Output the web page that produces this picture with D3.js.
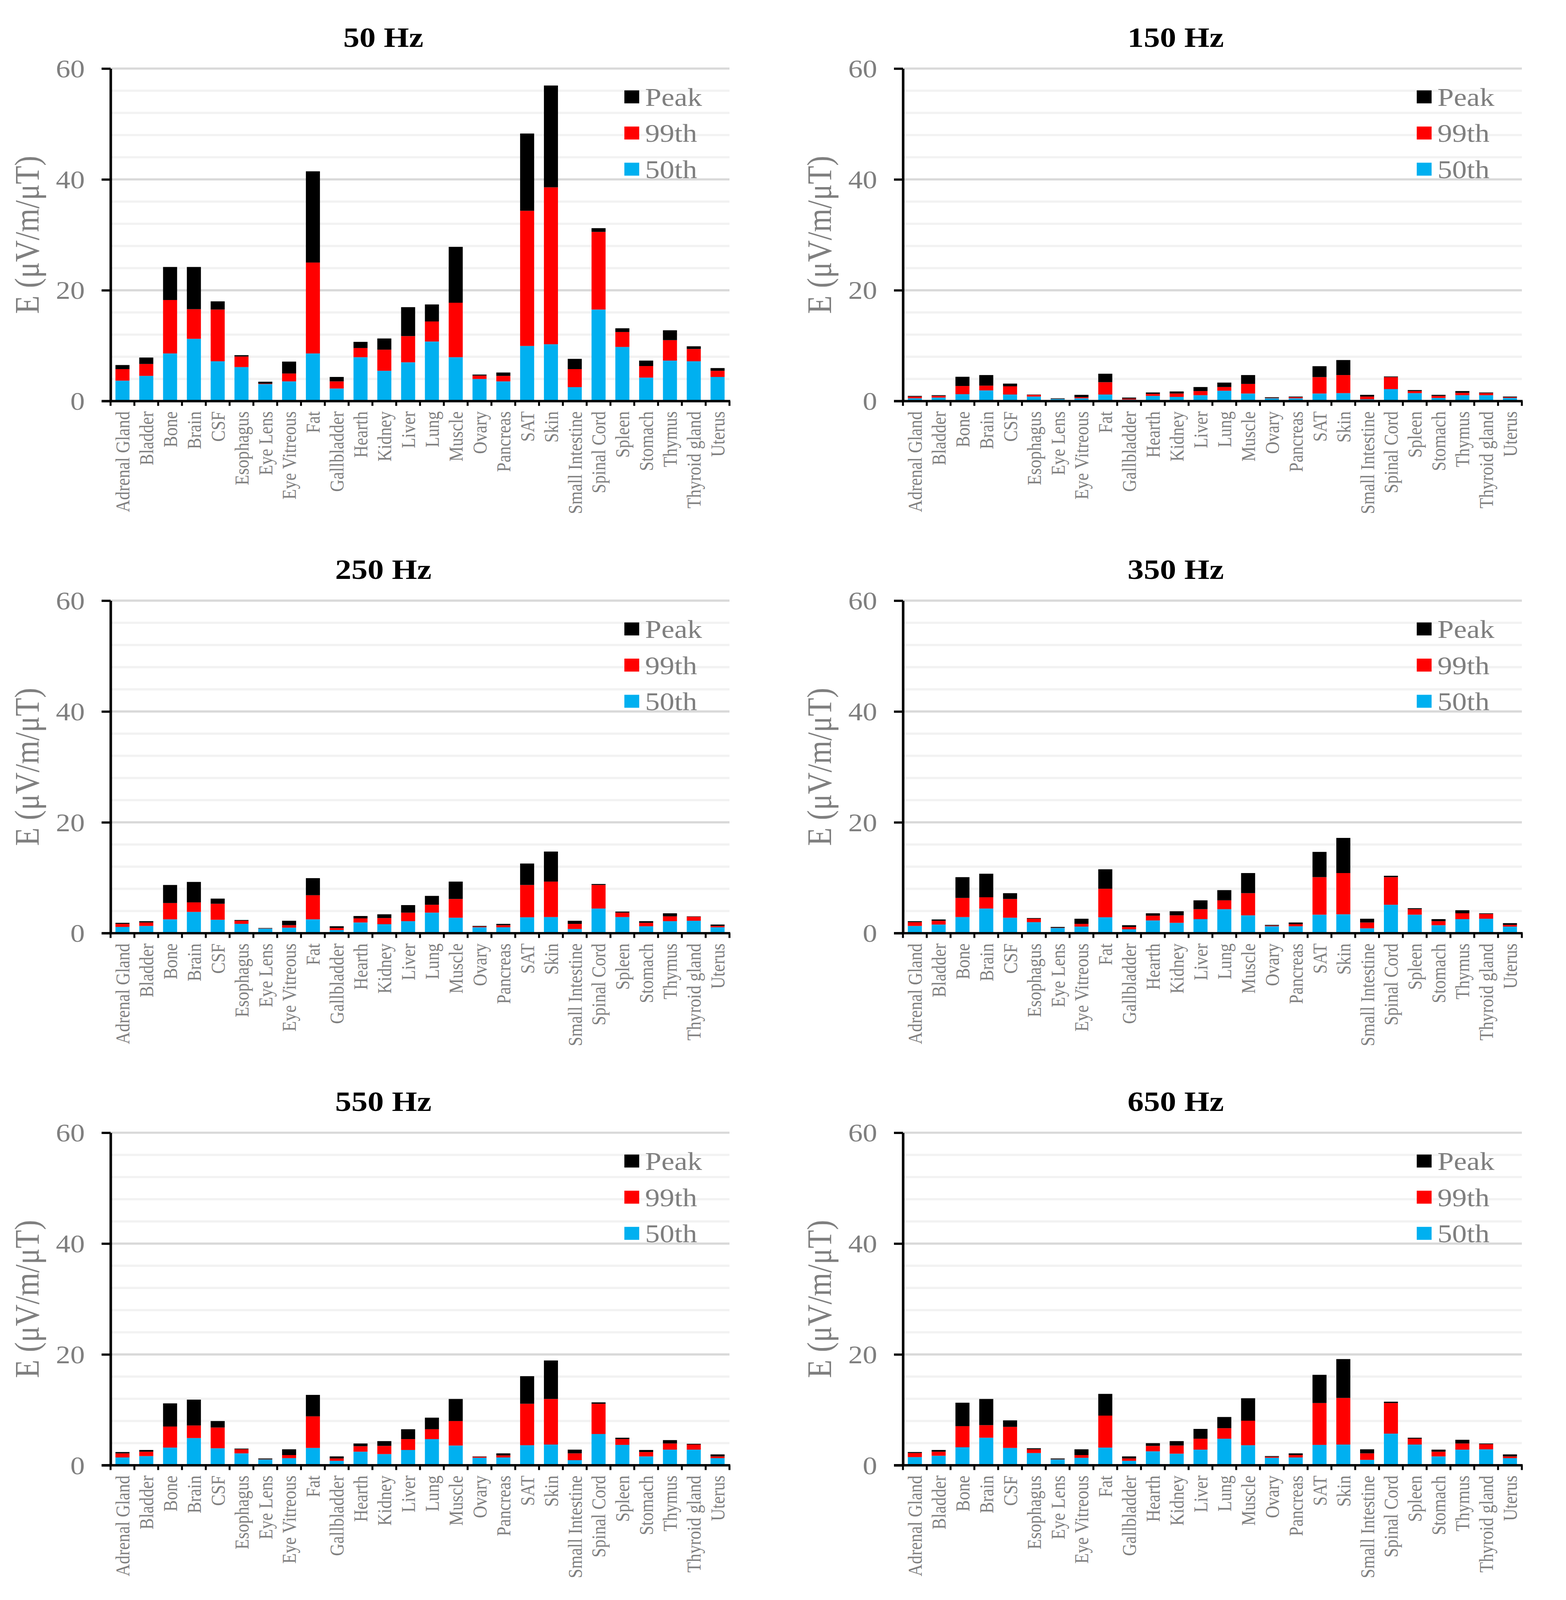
<!DOCTYPE html>
<html>
<head>
<meta charset="utf-8">
<script src="https://cdn.jsdelivr.net/npm/d3@7"></script>
<style>
  html, body { margin: 0; padding: 0; background: #ffffff; overflow: hidden; }
  svg { display: block; }
  text { font-family: "Liberation Serif", "Times New Roman", serif; }
</style>
</head>
<body>
<script>
// ---------- DATA ----------
const categories = ["Adrenal Gland","Bladder","Bone","Brain","CSF","Esophagus","Eye Lens","Eye Vitreous","Fat","Gallbladder","Hearth","Kidney","Liver","Lung","Muscle","Ovary","Pancreas","SAT","Skin","Small Intestine","Spinal Cord","Spleen","Stomach","Thymus","Thyroid gland","Uterus"];
const frequencies = ["50 Hz","150 Hz","250 Hz","350 Hz","550 Hz","650 Hz"];
const seriesNames = ["Peak","99th","50th"];
const yTicks = [0, 20, 40, 60];

const p50_50  = [3.69,4.55,8.60,11.24,7.19,6.14,3.07,3.56,8.60,2.27,7.92,5.47,7.00,10.75,7.92,3.99,3.56,9.95,10.26,2.52,16.52,9.77,4.24,7.31,7.19,4.36];
const p99_50  = [5.77,6.70,18.24,16.58,16.52,8.05,3.15,4.98,25.00,3.56,9.58,9.28,11.73,14.37,17.75,4.61,4.55,34.34,38.57,5.77,30.53,12.47,6.33,11.00,9.40,5.47];
const peak_50 = [6.51,7.86,24.20,24.20,18.00,8.29,3.50,7.13,41.46,4.36,10.69,11.30,16.95,17.44,27.83,4.79,5.16,48.28,56.94,7.62,31.20,13.14,7.31,12.78,9.89,5.96];

const p50_150  = [0.51,0.64,1.25,1.93,1.19,0.82,0.39,0.51,1.19,0.27,0.94,0.76,1.07,1.87,1.37,0.51,0.51,1.37,1.44,0.33,2.17,1.44,0.57,1.07,1.07,0.57];
const p99_150  = [0.82,0.94,2.73,2.79,2.67,1.13,0.42,0.70,3.41,0.45,1.31,1.37,1.81,2.54,3.10,0.57,0.70,4.33,4.70,0.82,4.33,1.81,0.94,1.50,1.44,0.70];
const peak_150 = [0.94,1.07,4.39,4.70,3.16,1.19,0.51,1.13,4.94,0.64,1.56,1.74,2.54,3.34,4.70,0.70,0.82,6.30,7.41,1.13,4.45,1.99,1.13,1.81,1.56,0.82];

const p50_250  = [1.13,1.31,2.50,3.84,2.42,1.68,0.82,1.00,2.50,0.57,1.93,1.62,2.17,3.71,2.79,1.07,1.07,2.87,2.91,0.76,4.45,2.91,1.25,2.17,2.24,1.07];
const p99_250  = [1.68,1.93,5.44,5.56,5.31,2.26,0.86,1.44,6.85,0.94,2.67,2.73,3.71,5.13,6.17,1.19,1.44,8.70,9.31,1.68,8.70,3.71,1.87,3.04,2.97,1.31];
const peak_250 = [1.87,2.17,8.70,9.25,6.24,2.38,0.94,2.24,9.93,1.25,3.10,3.41,5.07,6.73,9.31,1.31,1.68,12.57,14.73,2.24,8.88,3.90,2.17,3.59,3.04,1.56];

const p50_350  = [1.31,1.56,2.91,4.45,2.79,1.99,0.94,1.19,2.87,0.70,2.30,1.87,2.54,4.33,3.22,1.25,1.25,3.34,3.41,0.88,5.13,3.34,1.44,2.54,2.61,1.19];
const p99_350  = [1.99,2.24,6.36,6.48,6.17,2.61,0.98,1.68,8.02,1.13,3.16,3.22,4.33,5.93,7.22,1.37,1.62,10.11,10.85,1.93,10.11,4.33,2.17,3.59,3.47,1.50];
const peak_350 = [2.17,2.48,10.11,10.73,7.22,2.73,1.13,2.61,11.53,1.44,3.59,3.96,5.93,7.77,10.85,1.50,1.93,14.67,17.19,2.61,10.36,4.51,2.54,4.14,3.59,1.81];

const p50_550  = [1.41,1.66,3.19,4.91,3.07,2.15,1.04,1.29,3.13,0.80,2.45,2.02,2.76,4.72,3.56,1.35,1.41,3.62,3.74,0.92,5.64,3.68,1.60,2.82,2.82,1.29];
const p99_550  = [2.15,2.45,6.99,7.18,6.81,2.88,1.08,1.84,8.83,1.23,3.44,3.50,4.72,6.50,7.98,1.53,1.78,11.10,11.96,2.15,11.10,4.72,2.39,3.93,3.74,1.60];
const peak_550 = [2.39,2.76,11.17,11.84,7.98,3.01,1.23,2.88,12.70,1.60,3.93,4.36,6.50,8.59,11.96,1.60,2.15,16.07,18.91,2.82,11.35,4.97,2.76,4.54,3.87,1.96];

const p50_650  = [1.47,1.72,3.25,4.97,3.13,2.21,1.04,1.35,3.19,0.80,2.52,2.09,2.82,4.79,3.62,1.35,1.41,3.68,3.74,0.98,5.71,3.74,1.60,2.82,2.88,1.29];
const p99_650  = [2.21,2.45,7.06,7.24,6.93,2.88,1.08,1.84,8.96,1.23,3.50,3.56,4.79,6.69,8.04,1.53,1.84,11.23,12.15,2.15,11.23,4.79,2.45,3.93,3.80,1.60];
const peak_650 = [2.39,2.76,11.29,11.96,8.10,3.07,1.23,2.88,12.88,1.60,3.99,4.36,6.56,8.71,12.09,1.66,2.15,16.32,19.16,2.88,11.47,4.97,2.82,4.60,3.93,1.96];

const panels = [
  { title: frequencies[0], p50: p50_50,  p99: p99_50,  peak: peak_50  },
  { title: frequencies[1], p50: p50_150, p99: p99_150, peak: peak_150 },
  { title: frequencies[2], p50: p50_250, p99: p99_250, peak: peak_250 },
  { title: frequencies[3], p50: p50_350, p99: p99_350, peak: peak_350 },
  { title: frequencies[4], p50: p50_550, p99: p99_550, peak: peak_550 },
  { title: frequencies[5], p50: p50_650, p99: p99_650, peak: peak_650 }
];

// ---------- LAYOUT / STYLE ----------
// Design space matches the 4008x4691 reference; the SVG is fitted to the viewport.
const W = 4008, H = 4691;
const colX = [283, 2311];
const rowTop = [201, 1761, 3321];
const plotW = 1584, plotH = 975;
const gray = "#7f7f7f";
const colors = { peak: "#000000", p99: "#ff0000", p50: "#00b0f0" };
const legendColors = [colors.peak, colors.p99, colors.p50];

const vw = window.innerWidth || W, vh = window.innerHeight || H;
const svg = d3.select("body").append("svg")
  .attr("width", vw).attr("height", vh)
  .attr("viewBox", `0 0 ${W} ${H}`)
  .attr("preserveAspectRatio", "none");
svg.append("rect").attr("width", W).attr("height", H).attr("fill", "#ffffff");

const x = d3.scaleBand().domain(categories).range([0, plotW])
  .paddingInner(0.41).paddingOuter(0.205);
const y = d3.scaleLinear().domain([0, 60]).range([plotH, 0]);
const gridVals = d3.range(4, 61, 4);

panels.forEach((p, i) => {
  const col = i % 2, row = Math.floor(i / 2);
  const g = svg.append("g").attr("transform", `translate(${colX[col]},${rowTop[row]})`);

  // gridlines
  g.append("g").selectAll("line").data(gridVals).join("line")
    .attr("x1", 0).attr("x2", plotW)
    .attr("y1", d => y(d)).attr("y2", d => y(d))
    .attr("stroke", d => d % 20 === 0 ? "#d9d9d9" : "#f2f2f2")
    .attr("stroke-width", 6.5);

  // bars: segments 0->p50 (blue), p50->p99 (red), p99->peak (black)
  const rows = categories.map((c, k) => ({ c, a: p.p50[k], b: p.p99[k], c2: p.peak[k] }));
  const bars = g.append("g");
  bars.selectAll("rect.b50").data(rows).join("rect").attr("class", "b50")
    .attr("x", d => x(d.c)).attr("width", x.bandwidth())
    .attr("y", d => y(d.a)).attr("height", d => y(0) - y(d.a))
    .attr("fill", colors.p50);
  bars.selectAll("rect.b99").data(rows).join("rect").attr("class", "b99")
    .attr("x", d => x(d.c)).attr("width", x.bandwidth())
    .attr("y", d => y(d.b)).attr("height", d => Math.max(0, y(d.a) - y(d.b)))
    .attr("fill", colors.p99);
  bars.selectAll("rect.bpk").data(rows).join("rect").attr("class", "bpk")
    .attr("x", d => x(d.c)).attr("width", x.bandwidth())
    .attr("y", d => y(d.c2)).attr("height", d => Math.max(0, y(d.b) - y(d.c2)))
    .attr("fill", colors.peak);

  // y axis
  const ya = g.append("g").call(d3.axisLeft(y).tickValues(yTicks).tickSize(23).tickPadding(43).tickSizeOuter(0));
  ya.select(".domain").attr("stroke", "#000").attr("stroke-width", 6.5);
  ya.selectAll(".tick line").attr("stroke", "#000").attr("stroke-width", 6.5);
  ya.selectAll(".tick text").attr("fill", gray).style("font-size", "74px")
    .style("font-family", '"Liberation Serif", "Times New Roman", serif').attr("dy", "0.34em");

  // x axis
  const xa = g.append("g").attr("transform", `translate(0,${plotH})`)
    .call(d3.axisBottom(x).tickSize(0).tickPadding(0).tickSizeOuter(0));
  xa.select(".domain").remove();
  xa.selectAll(".tick text")
    .attr("fill", gray).style("font-size", "50px")
    .style("font-family", '"Liberation Serif", "Times New Roman", serif')
    .attr("y", 0).attr("x", -30).attr("dy", "0.35em")
    .attr("transform", "rotate(-90)").style("text-anchor", "end");
  // category boundary ticks
  const bounds = d3.range(categories.length + 1).map(k => k * x.step());
  xa.append("g").selectAll("line").data(bounds).join("line")
    .attr("x1", d => d).attr("x2", d => d).attr("y1", 0).attr("y2", 14)
    .attr("stroke", "#000").attr("stroke-width", 5);
  xa.append("line").attr("x1", -23).attr("x2", plotW + 2).attr("y1", 0).attr("y2", 0)
    .attr("stroke", "#000").attr("stroke-width", 7);

  // title
  g.append("text").attr("x", 698).attr("y", -64)
    .attr("text-anchor", "middle").attr("fill", "#000")
    .style("font-weight", "bold").style("font-size", "83px")
    .text(p.title);

  // y title
  g.append("text")
    .attr("transform", `translate(-184,${plotH / 2}) rotate(-90)`)
    .attr("text-anchor", "middle").attr("fill", gray)
    .style("font-size", "88px")
    .text("E (μV/m/μT)");

  // legend
  const lg = g.append("g").attr("transform", "translate(1315,83)");
  seriesNames.forEach((s, k) => {
    lg.append("rect").attr("x", 0).attr("y", k * 106 - 19).attr("width", 38).attr("height", 38)
      .attr("fill", legendColors[k]);
    lg.append("text").attr("x", 53).attr("y", k * 106).attr("dy", "0.35em")
      .attr("fill", gray).style("font-size", "75px").text(s);
  });
});
</script>
</body>
</html>
